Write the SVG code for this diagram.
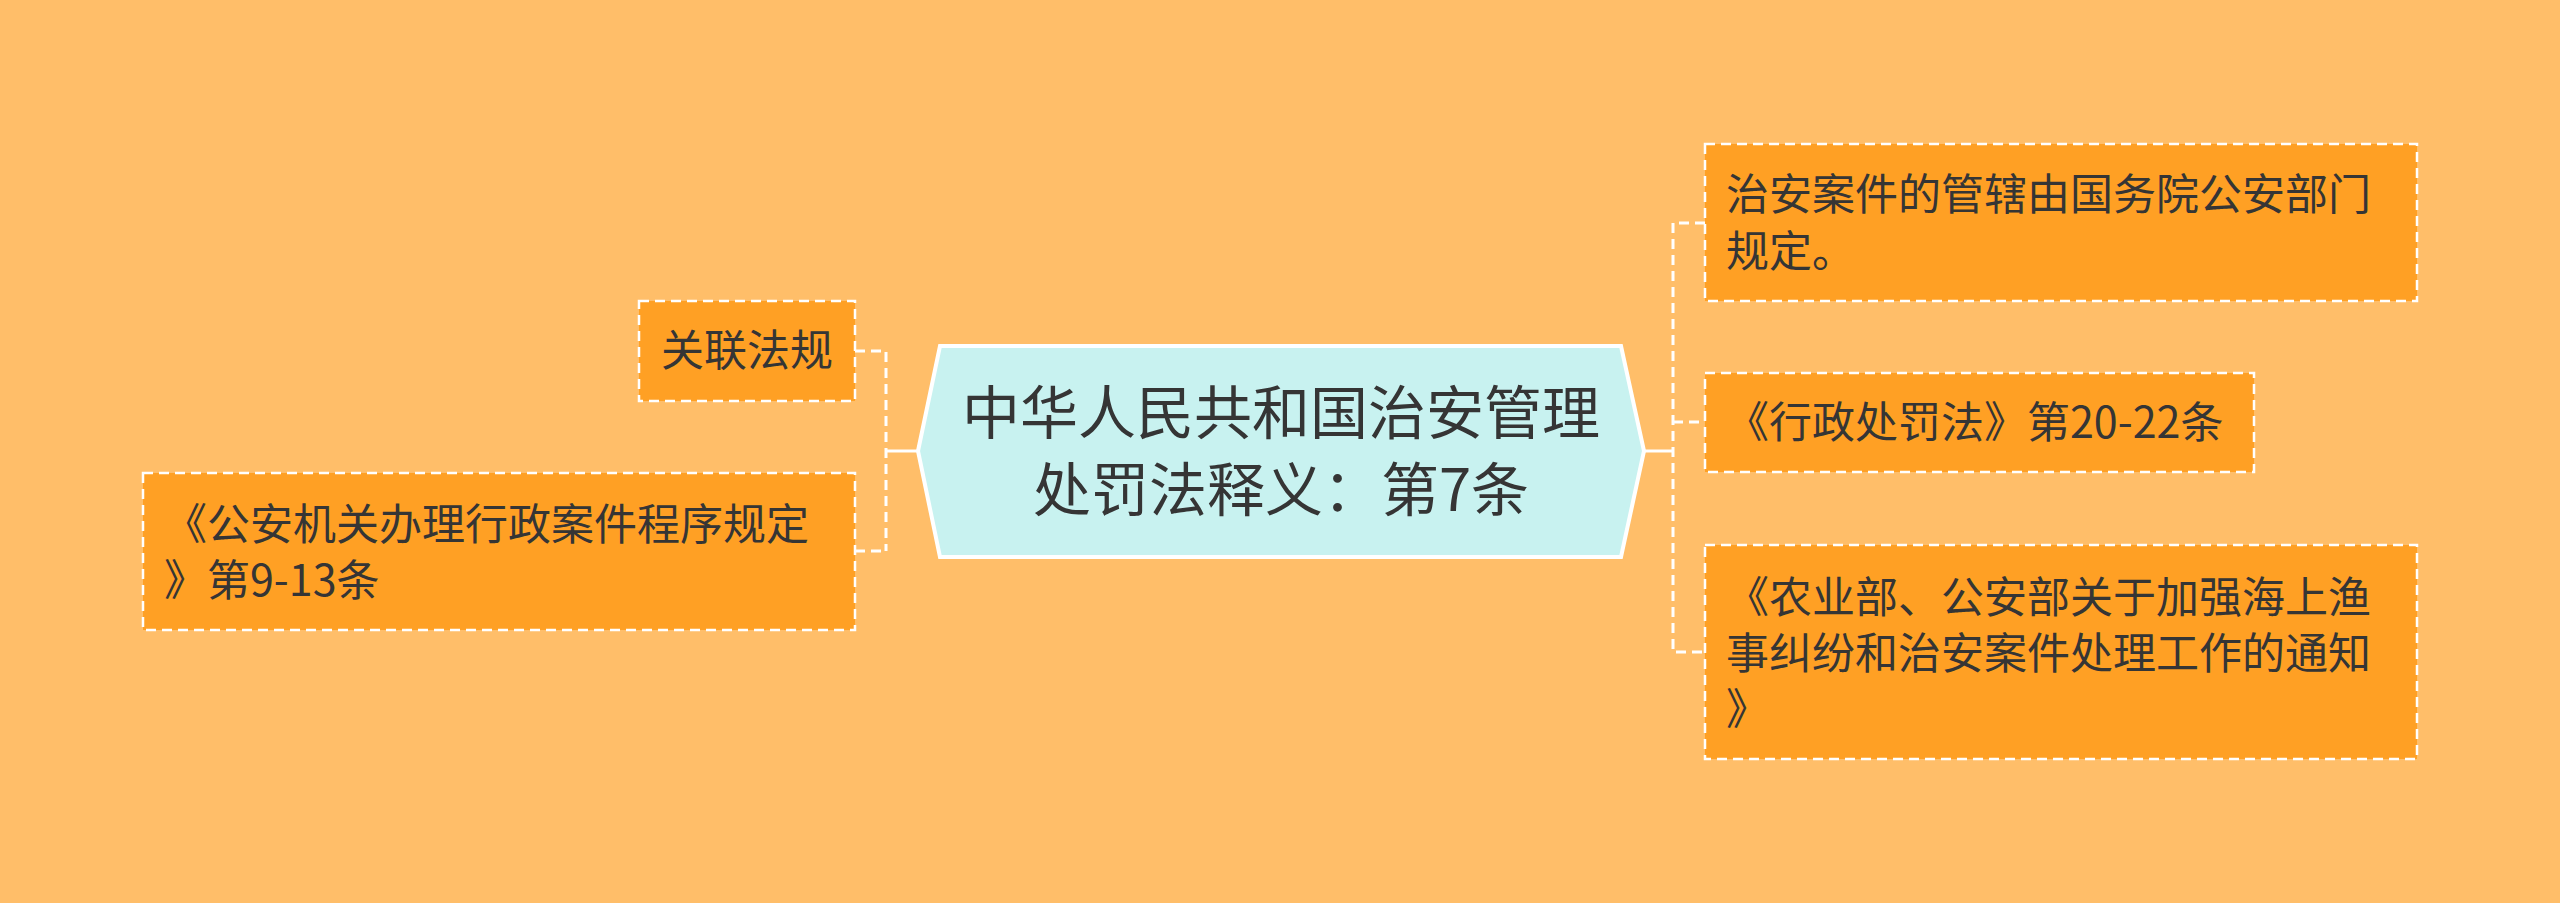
<svg xmlns="http://www.w3.org/2000/svg" width="2560" height="903" viewBox="0 0 2560 903">
<style>
.bg{fill:#FFBE69}
.leaf{fill:#FFA024;stroke:#FFFFFF;stroke-width:2.5;stroke-dasharray:10 6}
.root{fill:#C8F2F0;stroke:#FFFFFF;stroke-width:4}
.t{font-family:"Noto Sans CJK SC","Noto Sans",sans-serif;fill:#353535}
.lt{font-size:43px}
.rt{font-size:58px}
.dash{fill:none;stroke:#FFFFFF;stroke-width:3;stroke-dasharray:10 6}
.solid{fill:none;stroke:#FFFFFF;stroke-width:3}
</style>
<rect class="bg" x="0" y="0" width="2560" height="903"/>
<g id="connectors">
<path class="dash" d="M855 351 H886 V551 M855 551 H886"/>
<path class="solid" d="M886 451 H917"/>
<path class="dash" d="M1705 223 H1673 V652 H1705 M1673 422 H1705"/>
<path class="solid" d="M1645 451 H1673"/>
</g>
<g id="root">
<polygon class="root" points="918,451 940,346 1621,346 1644,451 1621,557 940,557"/>
<text class="t rt" x="1281" y="434" text-anchor="middle">中华人民共和国治安管理</text>
<text class="t rt" x="1281" y="511" text-anchor="middle">处罚法释义：第7条</text>
</g>
<g id="left1">
<rect class="leaf" x="639" y="301" width="216" height="100"/>
<text class="t lt" x="747" y="366" text-anchor="middle">关联法规</text>
</g>
<g id="left2">
<rect class="leaf" x="143" y="473" width="712" height="157"/>
<text class="t lt" x="164" y="540">《公安机关办理行政案件程序规定</text>
<text class="t lt" x="164" y="596">》第9-13条</text>
</g>
<g id="right1">
<rect class="leaf" x="1705" y="144" width="712" height="157"/>
<text class="t lt" x="1726" y="210">治安案件的管辖由国务院公安部门</text>
<text class="t lt" x="1726" y="267">规定。</text>
</g>
<g id="right2">
<rect class="leaf" x="1705" y="373" width="549" height="99"/>
<text class="t lt" x="1726" y="438">《行政处罚法》第20-22条</text>
</g>
<g id="right3">
<rect class="leaf" x="1705" y="545" width="712" height="214"/>
<text class="t lt" x="1726" y="613">《农业部、公安部关于加强海上渔</text>
<text class="t lt" x="1726" y="669">事纠纷和治安案件处理工作的通知</text>
<text class="t lt" x="1726" y="725">》</text>
</g>
</svg>
